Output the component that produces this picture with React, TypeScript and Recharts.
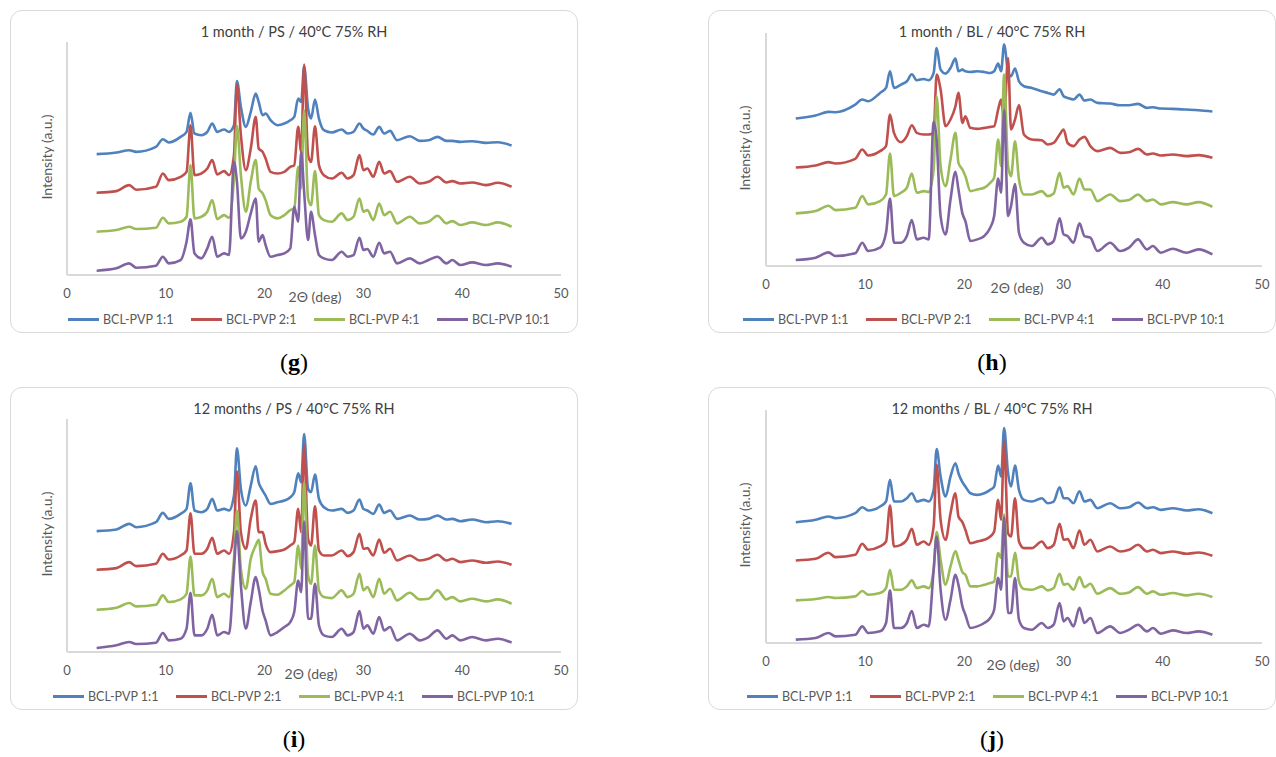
import React from 'react'
import { LineChart, Line, XAxis, YAxis } from 'recharts'

// shared 2θ grid (deg) used by every pattern
const thetas = [
  3, 5, 6.3, 7, 9, 9.7, 10.3, 11.5, 12.1, 12.5, 12.9, 13.6, 14.2, 14.7, 15.2,
  15.9, 16.4, 16.9, 17.2, 17.6, 18.1, 18.6, 19.1, 19.4, 19.8, 20.1, 20.6, 21.3,
  22.0, 22.6, 23.0, 23.4, 23.7, 24.0, 24.4, 24.7, 25.1, 25.5, 26.0, 26.8, 27.8,
  28.4, 29.0, 29.6, 30.0, 30.4, 31.0, 31.6, 32.1, 32.7, 33.4, 34.7, 35.7, 36.6,
  37.5, 38.4, 39.0, 39.8, 41.0, 42.4, 43.6, 45.0,
]

const seriesNames = ['BCL-PVP 1:1', 'BCL-PVP 2:1', 'BCL-PVP 4:1', 'BCL-PVP 10:1']
const colors = ['#4f81bd', '#c0504d', '#9bbb59', '#8064a2']
const xTicks = [0, 10, 20, 30, 40, 50]

// (g) 1 month / PS
const g11 = [363, 368, 375, 370, 385, 408, 398, 415, 430, 487, 425, 420, 430, 455, 430, 437, 430, 450, 583, 505, 445, 490, 545, 520, 480, 485, 465, 450, 455, 465, 475, 530, 520, 627, 500, 470, 527, 470, 435, 428, 437, 425, 430, 455, 440, 433, 422, 445, 425, 433, 405, 417, 403, 405, 415, 403, 403, 400, 402, 397, 399, 389]
const g21 = [247, 252, 270, 256, 265, 305, 285, 295, 310, 450, 300, 305, 320, 345, 302, 312, 300, 360, 573, 420, 315, 380, 475, 380, 370, 350, 310, 305, 310, 325, 330, 445, 370, 632, 360, 340, 447, 330, 300, 290, 307, 290, 300, 360, 315, 320, 295, 340, 305, 312, 280, 295, 275, 280, 295, 278, 282, 275, 278, 270, 277, 265]
const g41 = [130, 135, 145, 138, 142, 172, 155, 160, 175, 330, 170, 175, 190, 225, 168, 180, 172, 290, 448, 300, 190, 280, 345, 260, 245, 225, 180, 170, 180, 195, 200, 325, 260, 495, 230, 210, 312, 180, 165, 160, 185, 165, 175, 230, 190, 195, 165, 215, 180, 190, 155, 175, 155, 160, 178, 155, 162, 150, 158, 150, 158, 145]
const g101 = [13, 20, 35, 22, 28, 55, 35, 45, 100, 167, 65, 50, 80, 115, 55, 65, 60, 340, 280, 110, 130, 185, 230, 100, 120, 90, 55, 60, 65, 80, 205, 160, 370, 250, 105, 190, 120, 60, 50, 45, 70, 55, 60, 112, 75, 78, 55, 97, 65, 70, 35, 50, 35, 45, 55, 35, 45, 30, 38, 30, 35, 25]

// (h) 1 month / BL
const h11 = [443, 452, 463, 462, 485, 500, 495, 520, 535, 585, 535, 545, 555, 576, 558, 562, 558, 580, 655, 590, 578, 595, 623, 585, 590, 585, 583, 585, 583, 580, 585, 608, 585, 665, 585, 570, 593, 555, 540, 535, 525, 520, 515, 531, 510, 505, 500, 515, 497, 500, 490, 488, 483, 483, 487, 475, 477, 473, 472, 470, 468, 464]
const h21 = [296, 302, 312, 308, 322, 350, 332, 345, 360, 455, 400, 372, 390, 423, 400, 395, 395, 400, 575, 530, 420, 440, 480, 520, 430, 450, 415, 412, 415, 418, 420, 470, 500, 440, 625, 410, 440, 483, 395, 380, 378, 365, 370, 395, 410, 370, 360, 380, 388, 360, 345, 355, 340, 342, 352, 335, 338, 332, 335, 330, 333, 325]
const h41 = [158, 165, 181, 168, 175, 210, 185, 195, 215, 338, 210, 220, 235, 278, 220, 225, 222, 290, 510, 300, 240, 320, 400, 310, 290, 270, 225, 230, 235, 250, 265, 380, 300, 575, 300, 270, 375, 260, 215, 215, 225, 210, 218, 280, 235, 240, 215, 263, 230, 230, 195, 215, 195, 198, 215, 195, 200, 185, 192, 185, 192, 178]
const h101 = [18, 25, 41, 30, 38, 70, 45, 55, 100, 203, 70, 70, 90, 138, 80, 85, 80, 433, 380, 150, 95, 200, 283, 230, 158, 135, 75, 80, 90, 115, 150, 263, 220, 468, 150, 180, 246, 100, 70, 60, 85, 65, 75, 143, 95, 90, 70, 128, 90, 85, 45, 70, 45, 55, 80, 50, 60, 40, 52, 40, 50, 35]

// (i) 12 months / PS
const i11 = [363, 368, 385, 375, 390, 418, 400, 415, 430, 507, 425, 420, 430, 460, 425, 430, 425, 470, 612, 490, 440, 500, 558, 510, 485, 470, 445, 450, 455, 465, 480, 537, 510, 655, 490, 480, 533, 460, 435, 425, 430, 418, 425, 458, 430, 425, 415, 443, 418, 425, 400, 410, 398, 400, 410, 398, 400, 393, 398, 390, 393, 385]
const i21 = [247, 252, 270, 258, 265, 295, 278, 290, 305, 417, 295, 295, 310, 343, 295, 305, 295, 360, 543, 360, 310, 400, 455, 360, 360, 325, 300, 303, 308, 320, 330, 430, 360, 620, 340, 320, 438, 305, 290, 290, 305, 288, 300, 355, 310, 312, 290, 338, 298, 310, 275, 290, 275, 280, 292, 275, 280, 270, 275, 268, 272, 262]
const i41 = [127, 133, 147, 137, 142, 170, 150, 158, 175, 287, 170, 170, 185, 220, 165, 175, 165, 280, 425, 250, 190, 280, 320, 337, 240, 220, 175, 172, 185, 200, 210, 320, 250, 510, 230, 205, 320, 185, 165, 162, 185, 165, 175, 235, 185, 195, 165, 220, 175, 190, 155, 178, 158, 160, 185, 158, 165, 152, 160, 152, 158, 145]
const i101 = [12, 20, 30, 24, 28, 57, 35, 40, 70, 178, 50, 50, 70, 112, 50, 60, 55, 250, 363, 200, 70, 150, 225, 190, 123, 95, 50, 60, 75, 90, 120, 215, 180, 392, 100, 100, 205, 80, 50, 45, 70, 50, 60, 123, 70, 80, 55, 105, 65, 75, 35, 55, 35, 45, 65, 40, 50, 35, 45, 35, 40, 28]

// (j) 12 months / BL
const j11 = [363, 370, 380, 375, 390, 408, 398, 410, 425, 490, 425, 425, 435, 450, 425, 430, 425, 460, 583, 500, 440, 500, 540, 510, 483, 470, 450, 445, 450, 460, 470, 533, 500, 646, 510, 470, 533, 460, 430, 425, 435, 420, 425, 468, 435, 435, 420, 456, 425, 430, 405, 420, 405, 408, 422, 405, 408, 400, 405, 398, 402, 390]
const j21 = [248, 253, 271, 258, 265, 298, 280, 290, 305, 413, 290, 295, 310, 343, 295, 305, 295, 350, 536, 370, 310, 390, 450, 380, 363, 340, 300, 305, 310, 320, 335, 430, 370, 606, 330, 320, 435, 305, 285, 285, 305, 285, 295, 358, 310, 312, 285, 338, 295, 310, 275, 290, 275, 280, 295, 275, 280, 270, 275, 268, 272, 262]
const j41 = [128, 132, 138, 135, 140, 156, 145, 150, 165, 220, 160, 160, 170, 188, 165, 170, 165, 220, 333, 250, 175, 230, 276, 250, 213, 205, 170, 170, 175, 180, 185, 270, 255, 386, 200, 200, 271, 185, 162, 160, 170, 158, 165, 208, 175, 178, 160, 198, 168, 178, 148, 165, 148, 152, 168, 148, 155, 145, 150, 143, 148, 138]
const j101 = [10, 15, 30, 20, 25, 50, 30, 35, 60, 158, 45, 45, 60, 96, 45, 55, 50, 220, 320, 160, 70, 130, 205, 175, 110, 85, 45, 50, 60, 75, 100, 196, 160, 378, 90, 90, 195, 70, 45, 40, 60, 45, 55, 120, 65, 75, 50, 106, 60, 75, 30, 50, 30, 40, 55, 35, 45, 28, 38, 30, 35, 25]

const FONT = "Lato, 'Open Sans', sans-serif"
const W = 568
const H = 323

type PanelProps = {
  left: number
  top: number
  title: string
  caption: string
  series: number[][]
  mTop: number
  mRight: number
  mBottom: number
  yW: number
  legendLeft: number
  xTitleX: number
  xTitleY: number
  yLabelY: number
}

const Panel = (p: PanelProps) => {
  const rows = thetas.map((t, i) => ({
    t,
    s0: p.series[0][i],
    s1: p.series[1][i],
    s2: p.series[2][i],
    s3: p.series[3][i],
  }))
  return (
    <>
      <div
        style={{
          position: 'absolute',
          left: p.left,
          top: p.top,
          width: W,
          height: H,
          fontFamily: FONT,
        }}
      >
        <div
          style={{
            position: 'absolute',
            inset: 0,
            border: '1px solid #d9d9d9',
            borderRadius: 12,
            boxSizing: 'border-box',
          }}
        />
        <LineChart
          width={W}
          height={H}
          data={rows}
          margin={{ top: p.mTop, right: p.mRight, bottom: p.mBottom, left: 0 }}
          style={{ position: 'absolute', left: 0, top: 0 }}
        >
          <XAxis
            dataKey="t"
            type="number"
            domain={[0, 50]}
            ticks={xTicks}
            height={30}
            axisLine={{ stroke: '#d9d9d9', strokeWidth: 2 }}
            tickLine={false}
            tickMargin={8}
            tick={{ fill: '#595959', fontSize: 13, fontFamily: FONT }}
          />
          <YAxis
            type="number"
            domain={[0, 700]}
            width={p.yW}
            tick={false}
            tickLine={false}
            axisLine={{ stroke: '#d9d9d9', strokeWidth: 2 }}
          />
          {colors.map((c, k) => (
            <Line
              key={k}
              dataKey={'s' + k}
              name={seriesNames[k]}
              stroke={c}
              strokeWidth={2.6}
              strokeLinejoin="round"
              dot={false}
              type="monotone"
              isAnimationActive={false}
            />
          ))}
        </LineChart>
        <div
          style={{
            position: 'absolute',
            left: 0,
            width: W,
            top: 12,
            textAlign: 'center',
            fontSize: 14.5,
            color: '#404040',
            lineHeight: '20px',
          }}
        >
          {p.title}
        </div>
        <div
          style={{
            position: 'absolute',
            left: p.xTitleX - 50,
            width: 100,
            top: p.xTitleY - 10,
            lineHeight: '20px',
            textAlign: 'center',
            fontSize: 14,
            color: '#595959',
          }}
        >
          2Θ (deg)
        </div>
        <div
          style={{
            position: 'absolute',
            left: 37 - 60,
            width: 120,
            top: p.yLabelY - 10,
            lineHeight: '20px',
            textAlign: 'center',
            fontSize: 14,
            color: '#595959',
            transform: 'rotate(-90deg)',
          }}
        >
          Intensity (a.u.)
        </div>
        <div
          style={{
            position: 'absolute',
            left: p.legendLeft,
            top: 300,
            height: 18,
            display: 'flex',
            alignItems: 'center',
          }}
        >
          {seriesNames.map((n, k) => (
            <div
              key={n}
              style={{ width: 123, display: 'flex', alignItems: 'center' }}
            >
              <div style={{ width: 31, height: 3, background: colors[k] }} />
              <span
                style={{ marginLeft: 4, fontSize: 12.5, color: '#595959' }}
              >
                {n}
              </span>
            </div>
          ))}
        </div>
      </div>
      <div
        style={{
          position: 'absolute',
          left: p.left,
          width: W,
          top: p.top + H + 15,
          lineHeight: '28px',
          textAlign: 'center',
          fontFamily: "'Liberation Serif', serif",
          fontSize: 24,
          color: '#000',
        }}
      >
        (<b>{p.caption}</b>)
      </div>
    </>
  )
}

const PS = { mTop: 32, mRight: 17, mBottom: 28, yW: 57, xTitleY: 287, yLabelY: 147 }
const BL = { mTop: 23, mRight: 14, mBottom: 37, yW: 58, xTitleY: 278, yLabelY: 138 }

export default function App() {
  return (
    <div
      style={{
        position: 'absolute',
        left: 0,
        top: 0,
        width: 1276,
        height: 757,
        background: '#fff',
        overflow: 'hidden',
      }}
    >
      <Panel
        {...PS}
        left={10}
        top={10}
        title="1 month / PS / 40°C 75% RH"
        caption="g"
        series={[g11, g21, g41, g101]}
        legendLeft={58}
        xTitleX={305}
      />
      <Panel
        {...BL}
        left={708}
        top={10}
        title="1 month / BL / 40°C 75% RH"
        caption="h"
        series={[h11, h21, h41, h101]}
        legendLeft={35}
        xTitleX={309}
      />
      <Panel
        {...PS}
        left={10}
        top={387}
        title="12 months / PS / 40°C 75% RH"
        caption="i"
        series={[i11, i21, i41, i101]}
        legendLeft={43}
        xTitleX={301}
      />
      <Panel
        {...BL}
        left={708}
        top={387}
        title="12 months / BL / 40°C 75% RH"
        caption="j"
        series={[j11, j21, j41, j101]}
        legendLeft={39}
        xTitleX={305}
      />
    </div>
  )
}
